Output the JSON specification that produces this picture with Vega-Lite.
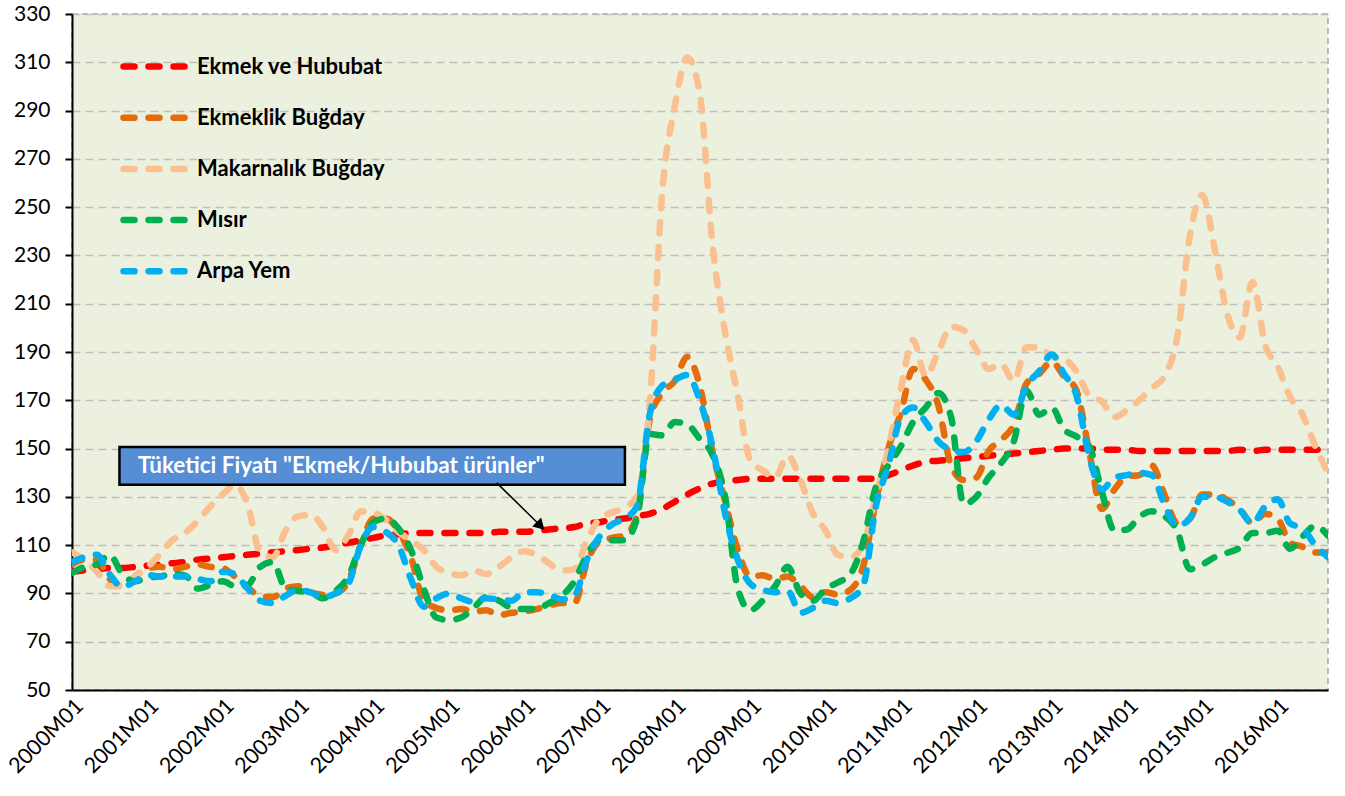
{
  "$schema": "https://vega.github.io/schema/vega-lite/v6.json",
  "width": 1256,
  "height": 676,
  "autosize": {"type": "none"},
  "padding": {"left": 72, "top": 14, "right": 17, "bottom": 106},
  "background": "white",
  "config": {
    "font": "Lato",
    "view": {"fill": "#EBF1DE", "stroke": "#A6A6A6", "strokeDash": [6, 4], "strokeWidth": 1.5}
  },
  "datasets": {
    "seri": [
      {"d":"2000-01-01","Ekmek ve Hububat":99,"Ekmeklik Buğday":102,"Makarnalık Buğday":107,"Mısır":98.5,"Arpa Yem":103},
      {"d":"2000-03-01","Ekmek ve Hububat":99.5,"Ekmeklik Buğday":104,"Makarnalık Buğday":104,"Mısır":101,"Arpa Yem":105},
      {"d":"2000-05-01","Ekmek ve Hububat":100,"Ekmeklik Buğday":104,"Makarnalık Buğday":99,"Mısır":102,"Arpa Yem":106},
      {"d":"2000-07-01","Ekmek ve Hububat":100.5,"Ekmeklik Buğday":96,"Makarnalık Buğday":93,"Mısır":106,"Arpa Yem":98},
      {"d":"2000-09-01","Ekmek ve Hububat":100.5,"Ekmeklik Buğday":93,"Makarnalık Buğday":93,"Mısır":98,"Arpa Yem":92.7},
      {"d":"2000-11-01","Ekmek ve Hububat":101,"Ekmeklik Buğday":97,"Makarnalık Buğday":97,"Mısır":95,"Arpa Yem":95},
      {"d":"2001-01-01","Ekmek ve Hububat":101.5,"Ekmeklik Buğday":100.5,"Makarnalık Buğday":101,"Mısır":96.5,"Arpa Yem":97.7},
      {"d":"2001-03-01","Ekmek ve Hububat":102,"Ekmeklik Buğday":101,"Makarnalık Buğday":106,"Mısır":97,"Arpa Yem":97},
      {"d":"2001-05-01","Ekmek ve Hububat":102.5,"Ekmeklik Buğday":100,"Makarnalık Buğday":112,"Mısır":98,"Arpa Yem":97},
      {"d":"2001-07-01","Ekmek ve Hububat":103,"Ekmeklik Buğday":101,"Makarnalık Buğday":115,"Mısır":97.5,"Arpa Yem":97},
      {"d":"2001-09-01","Ekmek ve Hububat":104,"Ekmeklik Buğday":102,"Makarnalık Buğday":120,"Mısır":92,"Arpa Yem":96},
      {"d":"2001-11-01","Ekmek ve Hububat":104.5,"Ekmeklik Buğday":101,"Makarnalık Buğday":126,"Mısır":93.5,"Arpa Yem":95},
      {"d":"2002-01-01","Ekmek ve Hububat":105,"Ekmeklik Buğday":100.5,"Makarnalık Buğday":131,"Mısır":95,"Arpa Yem":99},
      {"d":"2002-03-01","Ekmek ve Hububat":105.5,"Ekmeklik Buğday":97,"Makarnalık Buğday":135,"Mısır":93,"Arpa Yem":98},
      {"d":"2002-05-01","Ekmek ve Hububat":106,"Ekmeklik Buğday":92.5,"Makarnalık Buğday":127,"Mısır":93.5,"Arpa Yem":92},
      {"d":"2002-07-01","Ekmek ve Hububat":106.5,"Ekmeklik Buğday":89,"Makarnalık Buğday":107,"Mısır":101,"Arpa Yem":87},
      {"d":"2002-09-01","Ekmek ve Hububat":107,"Ekmeklik Buğday":88.5,"Makarnalık Buğday":105,"Mısır":103,"Arpa Yem":86},
      {"d":"2002-11-01","Ekmek ve Hububat":107.5,"Ekmeklik Buğday":92,"Makarnalık Buğday":116,"Mısır":92,"Arpa Yem":89},
      {"d":"2003-01-01","Ekmek ve Hububat":108,"Ekmeklik Buğday":93,"Makarnalık Buğday":122,"Mısır":91,"Arpa Yem":91.5},
      {"d":"2003-03-01","Ekmek ve Hububat":108.5,"Ekmeklik Buğday":90.5,"Makarnalık Buğday":122.5,"Mısır":90.5,"Arpa Yem":90.5},
      {"d":"2003-05-01","Ekmek ve Hububat":109,"Ekmeklik Buğday":89.5,"Makarnalık Buğday":117.6,"Mısır":88,"Arpa Yem":88.5},
      {"d":"2003-07-01","Ekmek ve Hububat":110,"Ekmeklik Buğday":90,"Makarnalık Buğday":108,"Mısır":91,"Arpa Yem":90},
      {"d":"2003-09-01","Ekmek ve Hububat":111,"Ekmeklik Buğday":95,"Makarnalık Buğday":114,"Mısır":97,"Arpa Yem":94},
      {"d":"2003-11-01","Ekmek ve Hububat":112,"Ekmeklik Buğday":110,"Makarnalık Buğday":124,"Mısır":110,"Arpa Yem":110},
      {"d":"2004-01-01","Ekmek ve Hububat":113,"Ekmeklik Buğday":121,"Makarnalık Buğday":123.5,"Mısır":119.5,"Arpa Yem":117.5},
      {"d":"2004-03-01","Ekmek ve Hububat":114,"Ekmeklik Buğday":121,"Makarnalık Buğday":120.5,"Mısır":121,"Arpa Yem":115.5},
      {"d":"2004-05-01","Ekmek ve Hububat":114.5,"Ekmeklik Buğday":116,"Makarnalık Buğday":115.5,"Mısır":117,"Arpa Yem":110},
      {"d":"2004-07-01","Ekmek ve Hububat":115,"Ekmeklik Buğday":105,"Makarnalık Buğday":112,"Mısır":108,"Arpa Yem":96},
      {"d":"2004-09-01","Ekmek ve Hububat":115,"Ekmeklik Buğday":87,"Makarnalık Buğday":108,"Mısır":92,"Arpa Yem":84.5},
      {"d":"2004-11-01","Ekmek ve Hububat":115,"Ekmeklik Buğday":84,"Makarnalık Buğday":101,"Mısır":80,"Arpa Yem":88},
      {"d":"2005-01-01","Ekmek ve Hububat":115,"Ekmeklik Buğday":83,"Makarnalık Buğday":98.5,"Mısır":79,"Arpa Yem":90},
      {"d":"2005-03-01","Ekmek ve Hububat":115,"Ekmeklik Buğday":83.5,"Makarnalık Buğday":97.5,"Mısır":80,"Arpa Yem":88},
      {"d":"2005-05-01","Ekmek ve Hububat":115,"Ekmeklik Buğday":82.5,"Makarnalık Buğday":99.5,"Mısır":84,"Arpa Yem":86.5},
      {"d":"2005-07-01","Ekmek ve Hububat":115,"Ekmeklik Buğday":83,"Makarnalık Buğday":98,"Mısır":88.5,"Arpa Yem":88},
      {"d":"2005-09-01","Ekmek ve Hububat":115.5,"Ekmeklik Buğday":81,"Makarnalık Buğday":101,"Mısır":87,"Arpa Yem":87.5},
      {"d":"2005-11-01","Ekmek ve Hububat":115.5,"Ekmeklik Buğday":82,"Makarnalık Buğday":105,"Mısır":84,"Arpa Yem":87},
      {"d":"2006-01-01","Ekmek ve Hububat":115.5,"Ekmeklik Buğday":82.5,"Makarnalık Buğday":107.5,"Mısır":83.5,"Arpa Yem":90.5},
      {"d":"2006-03-01","Ekmek ve Hububat":116,"Ekmeklik Buğday":83.5,"Makarnalık Buğday":106,"Mısır":83.5,"Arpa Yem":90.5},
      {"d":"2006-05-01","Ekmek ve Hububat":116.5,"Ekmeklik Buğday":85,"Makarnalık Buğday":102.5,"Mısır":86,"Arpa Yem":89.5},
      {"d":"2006-07-01","Ekmek ve Hububat":117,"Ekmeklik Buğday":86,"Makarnalık Buğday":99.5,"Mısır":89,"Arpa Yem":87.5},
      {"d":"2006-09-01","Ekmek ve Hububat":117.5,"Ekmeklik Buğday":86,"Makarnalık Buğday":100,"Mısır":95,"Arpa Yem":89},
      {"d":"2006-11-01","Ekmek ve Hububat":119,"Ekmeklik Buğday":103,"Makarnalık Buğday":112,"Mısır":106,"Arpa Yem":104},
      {"d":"2007-01-01","Ekmek ve Hububat":119.5,"Ekmeklik Buğday":111.5,"Makarnalık Buğday":121,"Mısır":112,"Arpa Yem":113.5},
      {"d":"2007-03-01","Ekmek ve Hububat":120.5,"Ekmeklik Buğday":113,"Makarnalık Buğday":123.5,"Mısır":112,"Arpa Yem":118.5},
      {"d":"2007-05-01","Ekmek ve Hububat":121,"Ekmeklik Buğday":114,"Makarnalık Buğday":125.5,"Mısır":112,"Arpa Yem":121},
      {"d":"2007-07-01","Ekmek ve Hububat":122,"Ekmeklik Buğday":122,"Makarnalık Buğday":130,"Mısır":121,"Arpa Yem":126},
      {"d":"2007-09-01","Ekmek ve Hububat":123,"Ekmeklik Buğday":162,"Makarnalık Buğday":168,"Mısır":156,"Arpa Yem":164},
      {"d":"2007-11-01","Ekmek ve Hububat":125,"Ekmeklik Buğday":173,"Makarnalık Buğday":256,"Mısır":155.5,"Arpa Yem":176},
      {"d":"2008-01-01","Ekmek ve Hububat":128,"Ekmeklik Buğday":178,"Makarnalık Buğday":292,"Mısır":161,"Arpa Yem":178.5},
      {"d":"2008-03-01","Ekmek ve Hububat":131,"Ekmeklik Buğday":188,"Makarnalık Buğday":312,"Mısır":160,"Arpa Yem":180.5},
      {"d":"2008-05-01","Ekmek ve Hububat":133.5,"Ekmeklik Buğday":176,"Makarnalık Buğday":297,"Mısır":154,"Arpa Yem":170},
      {"d":"2008-07-01","Ekmek ve Hububat":135.5,"Ekmeklik Buğday":149,"Makarnalık Buğday":235,"Mısır":147.5,"Arpa Yem":151},
      {"d":"2008-09-01","Ekmek ve Hububat":136.5,"Ekmeklik Buğday":128,"Makarnalık Buğday":198,"Mısır":130,"Arpa Yem":123},
      {"d":"2008-11-01","Ekmek ve Hububat":137,"Ekmeklik Buğday":108,"Makarnalık Buğday":172,"Mısır":92,"Arpa Yem":104},
      {"d":"2009-01-01","Ekmek ve Hububat":137.5,"Ekmeklik Buğday":97,"Makarnalık Buğday":145,"Mısır":83,"Arpa Yem":94},
      {"d":"2009-03-01","Ekmek ve Hububat":137.5,"Ekmeklik Buğday":97.5,"Makarnalık Buğday":141,"Mısır":87,"Arpa Yem":91.5},
      {"d":"2009-05-01","Ekmek ve Hububat":137.5,"Ekmeklik Buğday":96,"Makarnalık Buğday":138,"Mısır":93,"Arpa Yem":90.5},
      {"d":"2009-07-01","Ekmek ve Hububat":137.5,"Ekmeklik Buğday":97,"Makarnalık Buğday":147,"Mısır":101,"Arpa Yem":91},
      {"d":"2009-09-01","Ekmek ve Hububat":137.5,"Ekmeklik Buğday":93,"Makarnalık Buğday":137,"Mısır":90,"Arpa Yem":82},
      {"d":"2009-11-01","Ekmek ve Hububat":137.5,"Ekmeklik Buğday":88.5,"Makarnalık Buğday":123,"Mısır":87,"Arpa Yem":84},
      {"d":"2010-01-01","Ekmek ve Hububat":137.5,"Ekmeklik Buğday":90.5,"Makarnalık Buğday":116,"Mısır":92,"Arpa Yem":87},
      {"d":"2010-03-01","Ekmek ve Hububat":137.5,"Ekmeklik Buğday":89.5,"Makarnalık Buğday":106,"Mısır":94.5,"Arpa Yem":86},
      {"d":"2010-05-01","Ekmek ve Hububat":137.5,"Ekmeklik Buğday":91.5,"Makarnalık Buğday":105,"Mısır":98,"Arpa Yem":88},
      {"d":"2010-07-01","Ekmek ve Hububat":137.5,"Ekmeklik Buğday":101,"Makarnalık Buğday":110,"Mısır":111,"Arpa Yem":93},
      {"d":"2010-09-01","Ekmek ve Hububat":137.5,"Ekmeklik Buğday":128,"Makarnalık Buğday":130,"Mısır":134,"Arpa Yem":126},
      {"d":"2010-11-01","Ekmek ve Hububat":139,"Ekmeklik Buğday":150,"Makarnalık Buğday":150,"Mısır":143,"Arpa Yem":143},
      {"d":"2011-01-01","Ekmek ve Hububat":141,"Ekmeklik Buğday":165,"Makarnalık Buğday":175,"Mısır":151,"Arpa Yem":163},
      {"d":"2011-03-01","Ekmek ve Hububat":143,"Ekmeklik Buğday":183,"Makarnalık Buğday":195,"Mısır":161,"Arpa Yem":167},
      {"d":"2011-05-01","Ekmek ve Hububat":144.5,"Ekmeklik Buğday":178.5,"Makarnalık Buğday":180,"Mısır":167,"Arpa Yem":161},
      {"d":"2011-07-01","Ekmek ve Hububat":145,"Ekmeklik Buğday":168,"Makarnalık Buğday":190,"Mısır":173,"Arpa Yem":153},
      {"d":"2011-09-01","Ekmek ve Hububat":145.5,"Ekmeklik Buğday":143,"Makarnalık Buğday":200.5,"Mısır":163,"Arpa Yem":149.5},
      {"d":"2011-11-01","Ekmek ve Hububat":146,"Ekmeklik Buğday":137,"Makarnalık Buğday":199,"Mısır":127,"Arpa Yem":148.5},
      {"d":"2012-01-01","Ekmek ve Hububat":146.5,"Ekmeklik Buğday":138,"Makarnalık Buğday":191,"Mısır":130,"Arpa Yem":153},
      {"d":"2012-03-01","Ekmek ve Hububat":147,"Ekmeklik Buğday":149,"Makarnalık Buğday":183,"Mısır":138,"Arpa Yem":162},
      {"d":"2012-05-01","Ekmek ve Hububat":147.5,"Ekmeklik Buğday":153.6,"Makarnalık Buğday":185,"Mısır":144,"Arpa Yem":168},
      {"d":"2012-07-01","Ekmek ve Hububat":148,"Ekmeklik Buğday":160,"Makarnalık Buğday":178,"Mısır":153,"Arpa Yem":164},
      {"d":"2012-09-01","Ekmek ve Hububat":148.5,"Ekmeklik Buğday":177,"Makarnalık Buğday":192,"Mısır":174,"Arpa Yem":176},
      {"d":"2012-11-01","Ekmek ve Hububat":149,"Ekmeklik Buğday":181,"Makarnalık Buğday":192,"Mısır":164,"Arpa Yem":182},
      {"d":"2013-01-01","Ekmek ve Hububat":149.5,"Ekmeklik Buğday":186,"Makarnalık Buğday":188,"Mısır":167,"Arpa Yem":189},
      {"d":"2013-03-01","Ekmek ve Hububat":150,"Ekmeklik Buğday":180,"Makarnalık Buğday":187,"Mısır":158,"Arpa Yem":181},
      {"d":"2013-05-01","Ekmek ve Hububat":150,"Ekmeklik Buğday":174,"Makarnalık Buğday":182,"Mısır":155,"Arpa Yem":172},
      {"d":"2013-07-01","Ekmek ve Hububat":150,"Ekmeklik Buğday":149,"Makarnalık Buğday":172,"Mısır":151,"Arpa Yem":147},
      {"d":"2013-09-01","Ekmek ve Hububat":149.5,"Ekmeklik Buğday":125,"Makarnalık Buğday":169.5,"Mısır":132,"Arpa Yem":133},
      {"d":"2013-11-01","Ekmek ve Hububat":149.5,"Ekmeklik Buğday":133,"Makarnalık Buğday":163,"Mısır":116,"Arpa Yem":138},
      {"d":"2014-01-01","Ekmek ve Hububat":149.5,"Ekmeklik Buğday":138.5,"Makarnalık Buğday":166,"Mısır":116.5,"Arpa Yem":139},
      {"d":"2014-03-01","Ekmek ve Hububat":149,"Ekmeklik Buğday":139,"Makarnalık Buğday":170,"Mısır":121.7,"Arpa Yem":140},
      {"d":"2014-05-01","Ekmek ve Hububat":149,"Ekmeklik Buğday":143,"Makarnalık Buğday":175,"Mısır":124,"Arpa Yem":139},
      {"d":"2014-07-01","Ekmek ve Hububat":149,"Ekmeklik Buğday":131,"Makarnalık Buğday":180,"Mısır":122,"Arpa Yem":127},
      {"d":"2014-09-01","Ekmek ve Hububat":149,"Ekmeklik Buğday":119,"Makarnalık Buğday":196,"Mısır":116,"Arpa Yem":118},
      {"d":"2014-11-01","Ekmek ve Hububat":149,"Ekmeklik Buğday":121,"Makarnalık Buğday":238,"Mısır":100,"Arpa Yem":121},
      {"d":"2015-01-01","Ekmek ve Hububat":149,"Ekmeklik Buğday":131,"Makarnalık Buğday":255,"Mısır":102,"Arpa Yem":130},
      {"d":"2015-03-01","Ekmek ve Hububat":149,"Ekmeklik Buğday":131,"Makarnalık Buğday":233,"Mısır":105,"Arpa Yem":130},
      {"d":"2015-05-01","Ekmek ve Hububat":149,"Ekmeklik Buğday":128.8,"Makarnalık Buğday":206,"Mısır":106.8,"Arpa Yem":128},
      {"d":"2015-07-01","Ekmek ve Hububat":149.5,"Ekmeklik Buğday":125,"Makarnalık Buğday":196,"Mısır":109,"Arpa Yem":124.6},
      {"d":"2015-09-01","Ekmek ve Hububat":149,"Ekmeklik Buğday":119,"Makarnalık Buğday":219,"Mısır":115,"Arpa Yem":119},
      {"d":"2015-11-01","Ekmek ve Hububat":149.5,"Ekmeklik Buğday":123,"Makarnalık Buğday":193,"Mısır":115,"Arpa Yem":126},
      {"d":"2016-01-01","Ekmek ve Hububat":149.5,"Ekmeklik Buğday":121,"Makarnalık Buğday":184,"Mısır":116,"Arpa Yem":129},
      {"d":"2016-03-01","Ekmek ve Hububat":149.5,"Ekmeklik Buğday":111,"Makarnalık Buğday":171.5,"Mısır":108.5,"Arpa Yem":119},
      {"d":"2016-05-01","Ekmek ve Hububat":149.5,"Ekmeklik Buğday":109.3,"Makarnalık Buğday":164,"Mısır":113.6,"Arpa Yem":117},
      {"d":"2016-07-01","Ekmek ve Hububat":149.5,"Ekmeklik Buğday":107,"Makarnalık Buğday":151,"Mısır":118,"Arpa Yem":110},
      {"d":"2016-09-01","Ekmek ve Hububat":150,"Ekmeklik Buğday":107,"Makarnalık Buğday":140,"Mısır":114,"Arpa Yem":105}
    ]
  },
  "layer": [
    {
      "data": {"name": "seri"},
      "transform": [
        {"fold": ["Ekmek ve Hububat", "Ekmeklik Buğday", "Makarnalık Buğday", "Mısır", "Arpa Yem"], "as": ["seri", "deger"]}
      ],
      "mark": {"type": "line", "strokeWidth": 6.5, "strokeDash": [11, 14], "strokeCap": "round", "interpolate": "monotone", "clip": true},
      "encoding": {
        "x": {
          "field": "d",
          "type": "temporal",
          "scale": {"type": "utc", "domain": [{"year": 2000, "month": 1, "date": 1, "utc": true}, {"year": 2016, "month": 9, "date": 1, "utc": true}]},
          "axis": {
            "title": null,
            "values": [
              {"year": 2000, "month": 1, "date": 1, "utc": true},
              {"year": 2001, "month": 1, "date": 1, "utc": true},
              {"year": 2002, "month": 1, "date": 1, "utc": true},
              {"year": 2003, "month": 1, "date": 1, "utc": true},
              {"year": 2004, "month": 1, "date": 1, "utc": true},
              {"year": 2005, "month": 1, "date": 1, "utc": true},
              {"year": 2006, "month": 1, "date": 1, "utc": true},
              {"year": 2007, "month": 1, "date": 1, "utc": true},
              {"year": 2008, "month": 1, "date": 1, "utc": true},
              {"year": 2009, "month": 1, "date": 1, "utc": true},
              {"year": 2010, "month": 1, "date": 1, "utc": true},
              {"year": 2011, "month": 1, "date": 1, "utc": true},
              {"year": 2012, "month": 1, "date": 1, "utc": true},
              {"year": 2013, "month": 1, "date": 1, "utc": true},
              {"year": 2014, "month": 1, "date": 1, "utc": true},
              {"year": 2015, "month": 1, "date": 1, "utc": true},
              {"year": 2016, "month": 1, "date": 1, "utc": true}
            ],
            "labelExpr": "utcFormat(datum.value, '%Y') + 'M' + utcFormat(datum.value, '%m')",
            "labelAngle": -45,
            "labelFontSize": 21.5,
            "labelColor": "black",
            "labelFont": "Lato",
            "labelPadding": 5,
            "labelOverlap": false,
            "labelFlush": false,
            "ticks": false,
            "grid": false,
            "domainColor": "black",
            "domainWidth": 2
          }
        },
        "y": {
          "field": "deger",
          "type": "quantitative",
          "scale": {"domain": [50, 330], "nice": false, "zero": false},
          "axis": {
            "title": null,
            "values": [50, 70, 90, 110, 130, 150, 170, 190, 210, 230, 250, 270, 290, 310, 330],
            "grid": true,
            "gridColor": "#BFBFBF",
            "gridDash": [8, 5],
            "gridWidth": 1.5,
            "tickSize": 7,
            "tickColor": "black",
            "tickWidth": 2,
            "domainColor": "black",
            "domainWidth": 2,
            "labelFontSize": 21,
            "labelColor": "black",
            "labelFont": "Lato",
            "labelPadding": 15,
            "labelFlush": false
          }
        },
        "color": {
          "field": "seri",
          "type": "nominal",
          "scale": {
            "domain": ["Ekmek ve Hububat", "Ekmeklik Buğday", "Makarnalık Buğday", "Mısır", "Arpa Yem"],
            "range": ["#FF0000", "#E46C0A", "#FAC090", "#00B050", "#00B0F0"]
          },
          "legend": {
            "title": null,
            "orient": "none",
            "legendX": 70,
            "legendY": 38,
            "padding": 0,
            "labelFont": "Lato",
            "labelFontWeight": "bold",
            "labelFontSize": 22,
            "labelColor": "black",
            "labelLimit": 500,
            "labelOffset": 26,
            "symbolType": "M-3,0H3",
            "symbolSize": 484,
            "symbolStrokeWidth": 6.5,
            "symbolDash": [11, 14],
            "rowPadding": 23.2,
            "encode": {"symbols": {"update": {"strokeCap": {"value": "round"}, "fill": {"value": "transparent"}}}}
          }
        }
      }
    },
    {
      "data": {"values": [{}]},
      "mark": {"type": "rect", "fill": "#558ED5", "stroke": "black", "strokeWidth": 2.5},
      "encoding": {
        "x": {"datum": {"year": 2000, "month": 8, "date": 18, "utc": true}, "type": "temporal"},
        "x2": {"datum": {"year": 2007, "month": 5, "date": 4, "utc": true}},
        "y": {"datum": 135, "type": "quantitative"},
        "y2": {"datum": 150.7}
      }
    },
    {
      "data": {"values": [{}]},
      "mark": {"type": "text", "text": "Tüketici Fiyatı \"Ekmek/Hububat ürünler\"", "font": "Lato", "fontWeight": "bold", "fontSize": 22.5, "color": "white", "align": "left", "baseline": "middle"},
      "encoding": {
        "x": {"datum": {"year": 2000, "month": 11, "date": 15, "utc": true}, "type": "temporal"},
        "y": {"datum": 142.8, "type": "quantitative"}
      }
    },
    {
      "data": {"values": [{}]},
      "mark": {"type": "rule", "color": "black", "strokeWidth": 1.5},
      "encoding": {
        "x": {"datum": {"year": 2005, "month": 8, "date": 21, "utc": true}, "type": "temporal"},
        "x2": {"datum": {"year": 2006, "month": 3, "date": 21, "utc": true}},
        "y": {"datum": 135.8, "type": "quantitative"},
        "y2": {"datum": 118}
      }
    },
    {
      "data": {"values": [{}]},
      "mark": {"type": "point", "shape": "triangle-up", "filled": true, "color": "black", "size": 160, "angle": 135, "opacity": 1},
      "encoding": {
        "x": {"datum": {"year": 2006, "month": 3, "date": 21, "utc": true}, "type": "temporal"},
        "y": {"datum": 118, "type": "quantitative"}
      }
    }
  ]
}
